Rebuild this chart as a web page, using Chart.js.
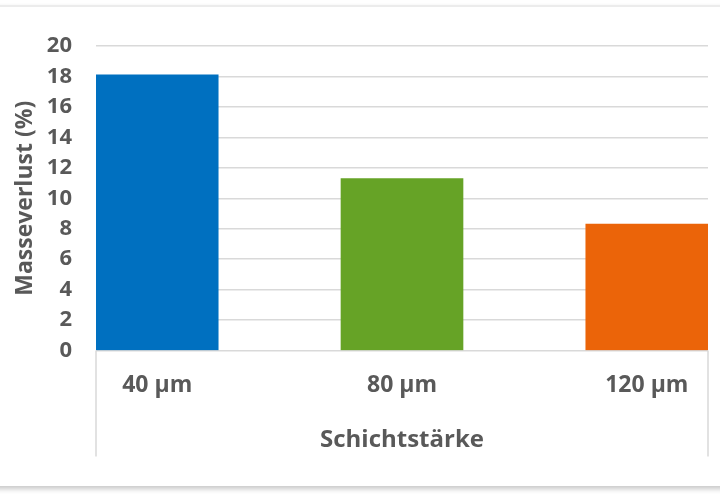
<!DOCTYPE html>
<html>
<head>
<meta charset="utf-8">
<script src="https://cdn.jsdelivr.net/npm/chart.js@4"></script>
<style>
  html, body { margin: 0; padding: 0; background: #ffffff; }
  body { width: 720px; height: 500px; position: relative; overflow: hidden; }
  #frame {
    position: absolute; left: -12px; top: 5px; width: 744px; height: 479px;
    background: #ffffff;
    border-top: 2px solid #ececec;
    box-shadow: 0 3px 5px rgba(0,0,0,0.22);
  }
  #wrap { position: absolute; left: 0; top: 0; width: 720px; height: 500px; }
</style>
</head>
<body>
<div id="frame"></div>
<div id="wrap"><canvas id="chart"></canvas></div>
<script>
// Schichtstärke vs. Masseverlust
const categories = ['40 µm', '80 µm', '120 µm'];
const masseverlust = [18.1, 11.3, 8.3];
const barColors = ['#0070C0', '#66A326', '#EB6409'];

const textColor = '#595959';
const gridColor = '#d9d9d9';
const fontFamily = '"Open Sans", "Liberation Sans", sans-serif';

// vertical divider lines at both ends of the category axis, like Excel draws them
const axisEnds = {
  id: 'axisEnds',
  afterDraw(chart) {
    const { ctx, chartArea } = chart;
    ctx.save();
    ctx.strokeStyle = gridColor;
    ctx.lineWidth = 1.5;
    [chartArea.left, chartArea.right].forEach(x => {
      ctx.beginPath();
      ctx.moveTo(x, chartArea.bottom);
      ctx.lineTo(x, chartArea.bottom + 106);
      ctx.stroke();
    });
    ctx.restore();
  }
};

new Chart(document.getElementById('chart'), {
  type: 'bar',
  data: {
    datasets: [{
      data: masseverlust.map((v, i) => ({ x: i, y: v })),
      backgroundColor: barColors,
      barThickness: 122,
    }]
  },
  options: {
    responsive: true,
    maintainAspectRatio: false,
    animation: false,
    layout: { padding: { top: 46, right: 12, left: 12, bottom: 41 } },
    plugins: { legend: { display: false }, tooltip: { enabled: false } },
    scales: {
      x: {
        type: 'linear',
        min: -0.25,
        max: 2.25,
        offset: false,
        grid: { display: false },
        border: { display: false },
        ticks: {
          stepSize: 1,
          includeBounds: false,
          padding: 13,
          color: textColor,
          font: { family: fontFamily, size: 23, weight: 'bold' },
          callback: v => categories[v] || ''
        },
        title: {
          display: true,
          text: 'Schichtstärke',
          color: textColor,
          padding: { top: 14 },
          font: { family: fontFamily, size: 24, weight: 'bold' }
        }
      },
      y: {
        min: 0,
        max: 20,
        afterFit(scale) { scale.width = 84; },
        grid: { color: gridColor, lineWidth: 1.5, drawTicks: false },
        border: { display: false },
        ticks: {
          stepSize: 2,
          padding: 24,
          color: textColor,
          font: { family: fontFamily, size: 22, weight: 'bold' }
        },
        title: {
          display: true,
          text: 'Masseverlust (%)',
          color: textColor,
          padding: { top: 0, bottom: 2 },
          font: { family: fontFamily, size: 23, weight: 'bold' }
        }
      }
    }
  },
  plugins: [axisEnds]
});
</script>
</body>
</html>
